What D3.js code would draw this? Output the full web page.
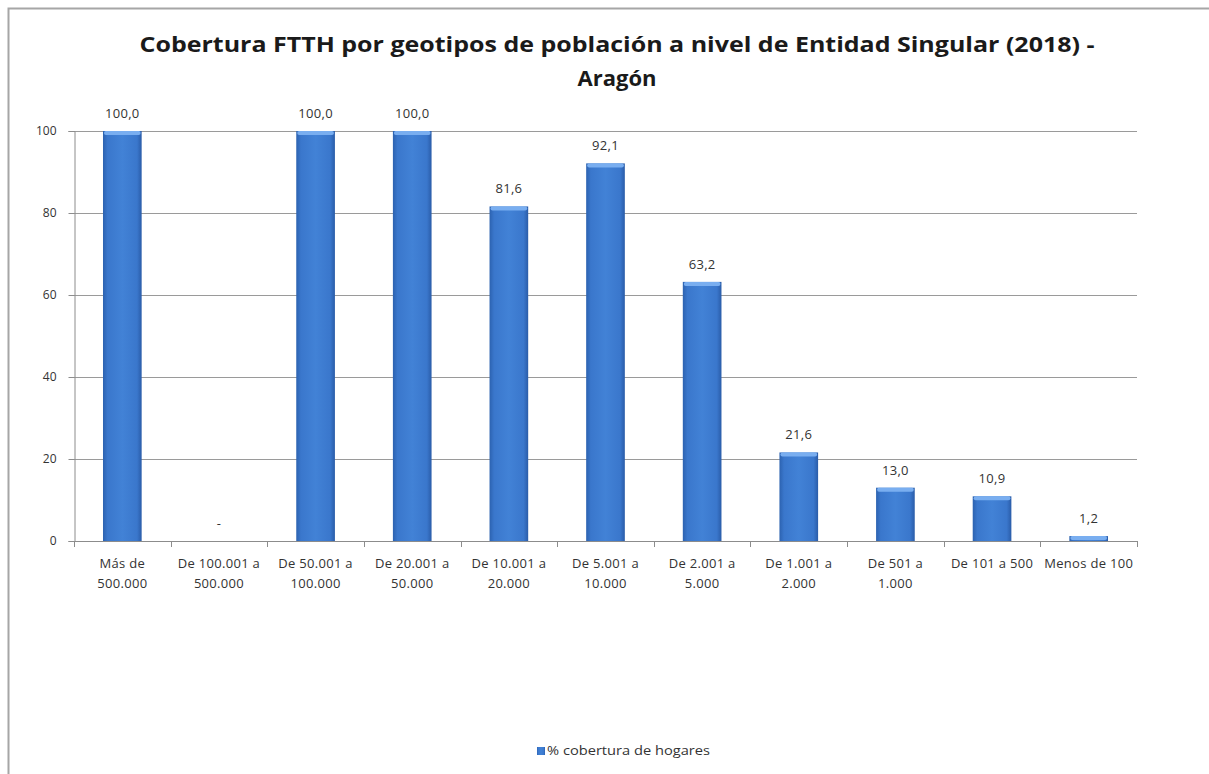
<!DOCTYPE html>
<html>
<head>
<meta charset="utf-8">
<script src="https://cdn.jsdelivr.net/npm/d3@7"></script>
<style>
  body { margin: 0; background: #fff; }
  text { font-family: "Open Sans", "DejaVu Sans", sans-serif; }
</style>
</head>
<body>
<script>
// chart data
var categories = [
  ["Más de", "500.000"],
  ["De 100.001 a", "500.000"],
  ["De 50.001 a", "100.000"],
  ["De 20.001 a", "50.000"],
  ["De 10.001 a", "20.000"],
  ["De 5.001 a", "10.000"],
  ["De 2.001 a", "5.000"],
  ["De 1.001 a", "2.000"],
  ["De 501 a", "1.000"],
  ["De 101 a 500"],
  ["Menos de 100"]
];
var values = [100.0, null, 100.0, 100.0, 81.6, 92.1, 63.2, 21.6, 13.0, 10.9, 1.2];
var yTicks = [0, 20, 40, 60, 80, 100];
var seriesName = "% cobertura de hogares";
var titleLines = ["Cobertura FTTH por geotipos de población a nivel de Entidad Singular (2018) -", "Aragón"];

var W = 1209, H = 774;
var margin = {top: 131, right: 72, bottom: 233, left: 74},
    width = W - margin.left - margin.right,
    height = H - margin.top - margin.bottom;

var svg = d3.select("body").append("svg")
    .attr("width", W)
    .attr("height", H);

// outer frame (only top and left edges visible)
svg.append("path")
  .attr("d", "M8.5," + H + "V8.5H" + W)
  .attr("fill", "none")
  .attr("stroke", "#a6a6a6")
  .attr("stroke-width", 2);

var defs = svg.append("defs");
var grad = defs.append("linearGradient").attr("id", "barGrad")
  .attr("x1", "0").attr("x2", "1").attr("y1", "0").attr("y2", "0");
grad.append("stop").attr("offset", "0%").attr("stop-color", "#2c62b0");
grad.append("stop").attr("offset", "12%").attr("stop-color", "#3a77cc");
grad.append("stop").attr("offset", "50%").attr("stop-color", "#4282d6");
grad.append("stop").attr("offset", "88%").attr("stop-color", "#3a77cc");
grad.append("stop").attr("offset", "100%").attr("stop-color", "#2a5ca8");

// title
svg.append("g").selectAll("text")
  .data(titleLines)
  .enter().append("text")
    .attr("x", 617)
    .attr("y", function(d, i) { return 52 + i * 34; })
    .attr("text-anchor", "middle")
    .attr("font-size", "22px")
    .attr("font-weight", "bold")
    .attr("fill", "#1a1a1a")
    .attr("textLength", function(d, i) { return i == 0 ? 955 : null; })
    .attr("lengthAdjust", "spacingAndGlyphs")
    .text(function(d) { return d; });

var g = svg.append("g")
  .attr("transform", "translate(" + margin.left + "," + margin.top + ")");

var x = d3.scaleBand()
  .domain(d3.range(categories.length))
  .range([0, width])
  .paddingInner(0.6)
  .paddingOuter(0.3);

var y = d3.scaleLinear()
  .domain([0, 100])
  .range([height, 0]);

// gridlines
g.append("g").selectAll("line")
  .data(yTicks.filter(function(d) { return d > 0; }))
  .enter().append("line")
    .attr("x1", 0).attr("x2", width)
    .attr("y1", function(d) { return y(d) + 0.5; })
    .attr("y2", function(d) { return y(d) + 0.5; })
    .attr("stroke", "#9a9a9a")
    .attr("stroke-width", 1);

// y axis
var yAxis = g.append("g")
  .attr("transform", "translate(0.5,0)")
  .call(d3.axisLeft(y).tickValues(yTicks).tickSize(6).tickPadding(12));
yAxis.select(".domain").attr("stroke", "#8c8c8c");
yAxis.selectAll(".tick line").attr("stroke", "#8c8c8c");
yAxis.selectAll(".tick text").attr("font-size", "12px").attr("fill", "#333");

// x axis
var boundaries = d3.range(categories.length + 1).map(function(i) { return i * width / categories.length; });
g.append("line")
  .attr("x1", 0).attr("x2", width)
  .attr("y1", height + 0.5).attr("y2", height + 0.5)
  .attr("stroke", "#8c8c8c");
g.append("g").selectAll("line")
  .data(boundaries)
  .enter().append("line")
    .attr("x1", function(d) { return Math.round(d) + 0.5; })
    .attr("x2", function(d) { return Math.round(d) + 0.5; })
    .attr("y1", height).attr("y2", height + 6)
    .attr("stroke", "#8c8c8c");

// category labels
var lab = g.append("g").selectAll("text")
  .data(categories)
  .enter().append("text")
    .attr("x", function(d, i) { return x(i) + x.bandwidth() / 2; })
    .attr("y", height + 27)
    .attr("text-anchor", "middle")
    .attr("font-size", "13px")
    .attr("letter-spacing", "0.3px")
    .attr("fill", "#333");
lab.selectAll("tspan")
  .data(function(d) { return d; })
  .enter().append("tspan")
    .attr("x", function() { return d3.select(this.parentNode).attr("x"); })
    .attr("dy", function(d, i) { return i == 0 ? 0 : 20; })
    .text(function(d) { return d; });

// bars
var bars = g.append("g").selectAll("g")
  .data(values.map(function(v, i) { return {v: v, i: i}; }).filter(function(d) { return d.v != null; }))
  .enter().append("g");
bars.append("rect")
  .attr("x", function(d) { return x(d.i); })
  .attr("y", function(d) { return y(d.v); })
  .attr("width", x.bandwidth())
  .attr("height", function(d) { return height - y(d.v); })
  .attr("fill", "url(#barGrad)");
// light bevel on bar top
bars.append("rect")
  .attr("x", function(d) { return x(d.i) + 1; })
  .attr("y", function(d) { return y(d.v); })
  .attr("width", x.bandwidth() - 2)
  .attr("height", function(d) { return Math.min(4, height - y(d.v)); })
  .attr("rx", 2)
  .attr("fill", "#79aef0");

// value labels
g.append("g").selectAll("text")
  .data(values)
  .enter().append("text")
    .attr("x", function(d, i) { return x(i) + x.bandwidth() / 2; })
    .attr("y", function(d) { return y(d == null ? 0 : d) - 13; })
    .attr("text-anchor", "middle")
    .attr("font-size", "13px")
    .attr("letter-spacing", "0.3px")
    .attr("fill", "#333")
    .text(function(d) { return d == null ? "-" : d3.format(".1f")(d).replace(".", ","); });

// legend
var leg = svg.append("g").attr("transform", "translate(537,747)");
leg.append("rect")
  .attr("width", 8).attr("height", 8)
  .attr("fill", "url(#barGrad)");
leg.append("text")
  .attr("x", 10).attr("y", 8)
  .attr("font-size", "13px")
  .attr("fill", "#333")
  .attr("textLength", 163)
  .attr("lengthAdjust", "spacingAndGlyphs")
  .text(seriesName);
</script>
</body>
</html>
